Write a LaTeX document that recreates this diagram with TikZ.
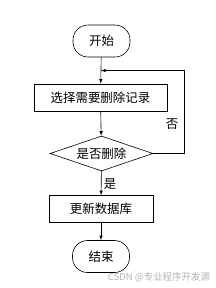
\documentclass[tikz,border=0pt]{standalone}
\usepackage{fontspec}
\setmainfont{Noto Sans CJK SC}
\usetikzlibrary{shapes.geometric,calc}
\tikzset{
  terminal/.style={draw, rounded corners=15bp, minimum width=57bp, minimum height=32bp, inner sep=0pt},
  process/.style={draw, minimum height=27bp, inner sep=0pt},
  decision/.style={draw, diamond, aspect=2.94, minimum width=103bp, minimum height=35bp, inner sep=0pt},
}
\begin{document}
\begin{tikzpicture}[>=latex, x=1bp, y=-1bp, font=\fontsize{12.5}{14}\selectfont, line width=0.6pt]
  \useasboundingbox (0,0) rectangle (216,288);
  \node[terminal] (start) at (101.5,41) {开始};
  \node[process, minimum width=133bp] (select) at (100.5,97.5) {选择需要删除记录};
  \node[decision] (ask) at (101.5,153.5) {是否删除};
  \node[process, minimum width=104bp] (update) at (101,209) {更新数据库};
  \node[terminal] (stop) at (101,256.5) {结束};
  \coordinate (join) at ($(start.south)!0.5!(select.north)$);
  \draw[->] (start) -- (select);
  \draw[->] (select) -- (ask);
  \draw[->] (ask) -- (update);
  \draw[->] (update) -- (stop);
  \draw[->] (ask.east) -- (184,153.5) |- (join);
  \node (no) at (172,124) {否};
  \node (yes) at (110,184) {是};
  \node[text=black!30, font=\fontsize{9.5}{10}\selectfont] (mark) at (159,277) {CSDN @专业程序开发源};
\end{tikzpicture}
\end{document}
